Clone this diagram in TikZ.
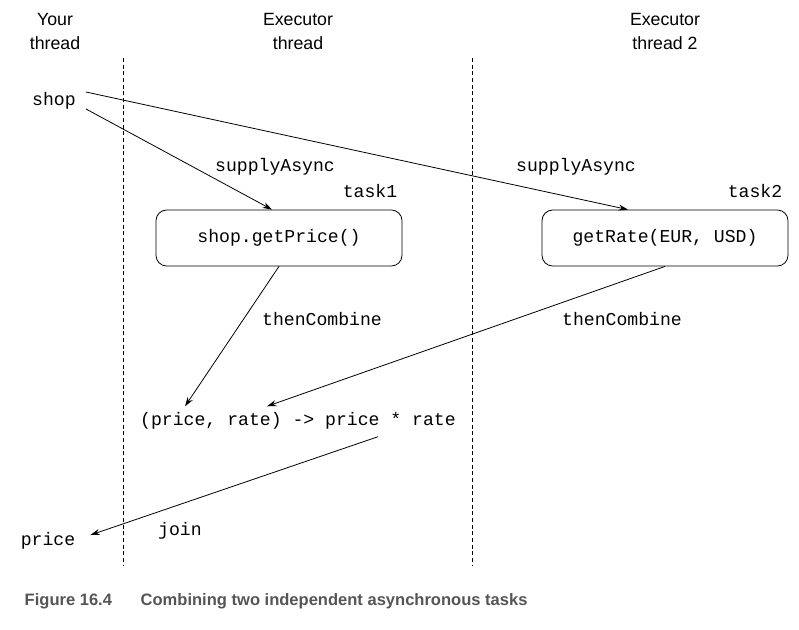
\documentclass[tikz,border=0pt]{standalone}
\usepackage{fontspec}
\setmainfont{Liberation Sans}
\setmonofont{Liberation Mono}
\usetikzlibrary{arrows.meta,calc}
\definecolor{capgray}{HTML}{555555}
\begin{document}
\begin{tikzpicture}[x=0.75pt,y=-0.75pt,
		head/.style={align=center,font=\fontsize{13.3}{18}\selectfont},
		code/.style={font=\fontsize{13.6}{16}\ttfamily,inner sep=0pt},
		taskbox/.style={draw,rounded corners=8pt,minimum width=184.5pt,minimum height=42pt,line width=0.6pt,font=\fontsize{13.6}{16}\ttfamily},
		call/.style={line width=0.6pt,-{Stealth[length=7pt,width=4.5pt]}},
		lane/.style={line width=0.5pt,dash pattern=on 3pt off 2pt}]
	\useasboundingbox (0,0) rectangle (799,629);
	% thread headings
	\node[head] (hyour) at (55,31) {Your\\thread};
	\node[head] (hexec) at (298,31) {Executor\\thread};
	\node[head] (hexectwo) at (665,31) {Executor\\thread 2};
	\foreach \xcoord in {123,472} \draw[lane] (\xcoord,58) to (\xcoord,566);
	% nodes
	\node[code] (shop) at (54,101) {shop};
	\node[taskbox] (price) at (279,238) {shop.getPrice()};
	\node[taskbox] (rate) at (665,238) {getRate(EUR, USD)};
	\node[code] (lambda) at (298,421) {(price, rate) -> price * rate};
	\node[code] (result) at (48,541) {price};
	\coordinate (shopa) at (86,92);
	\coordinate (shopb) at (86,109);
	% arrows
	\draw[call] (shopa) to ($(rate.north)+(-37,0)$);
	\draw[call] (shopb) to ($(price.north)+(-7,0)$);
	\draw[call] (price.south) to ($(lambda.north)+(-113,-6)$);
	\draw[call] (rate.south) to ($(lambda.north)+(-31,-6)$);
	\draw[call] ($(lambda.south)+(80,7)$) to ($(result.east)+(15,-6)$);
	% labels
	\node[code] (sa1) at (275,167) {supplyAsync};
	\node[code] (t1) at (370,191) {task1};
	\node[code] (sa2) at (576,167) {supplyAsync};
	\node[code] (t2) at (755,191) {task2};
	\node[code] (tc1) at (322,319) {thenCombine};
	\node[code] (tc2) at (622,319) {thenCombine};
	\node[code] (join) at (180,531) {join};
	% caption
	\node[anchor=west,text=capgray,font=\fontsize{12.4}{14}\bfseries] (cap) at (20,601) {\makebox[72pt][l]{Figure 16.4}\hspace{15pt}Combining two independent asynchronous tasks};
\end{tikzpicture}
\end{document}
